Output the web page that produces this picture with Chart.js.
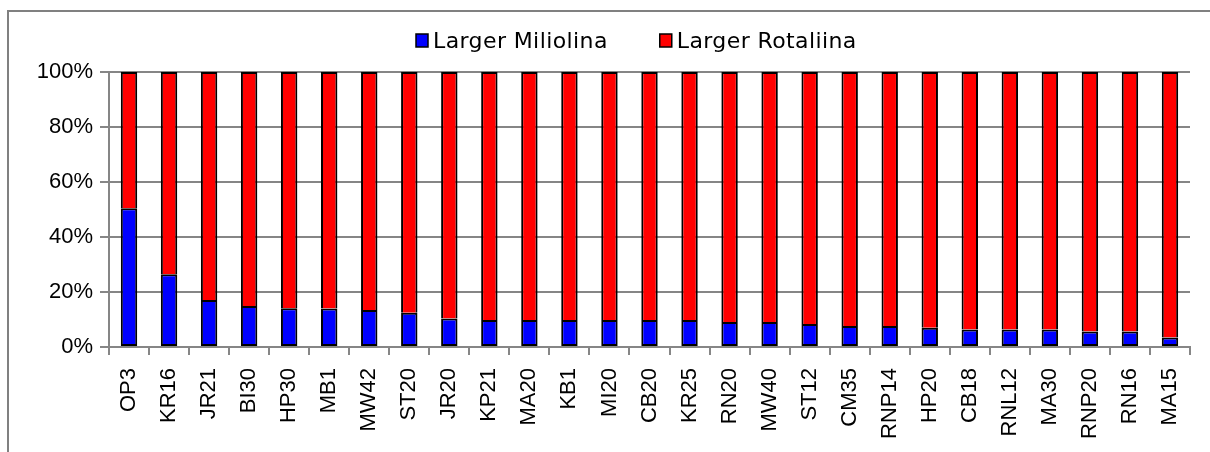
<!DOCTYPE html>
<html>
<head>
<meta charset="utf-8">
<script src="https://cdn.jsdelivr.net/npm/chart.js@4/dist/chart.umd.min.js"></script>
<style>
  body { margin: 0; background: #fff; }
  canvas { display: block; }
</style>
</head>
<body>
<canvas id="chart" width="1210" height="452"></canvas>
<script>
// sample names along the x axis
const samples = ['OP3','KR16','JR21','BI30','HP30','MB1','MW42','ST20','JR20','KP21','MA20','KB1','MI20','CB20',
  'KR25','RN20','MW40','ST12','CM35','RNP14','HP20','CB18','RNL12','MA30','RNP20','RN16','MA15'];

// percent of each group
const miliolina = [50.5, 26.5, 17.1, 14.9, 14.1, 14.0, 13.5, 12.5, 10.4, 9.8, 9.8, 9.8, 9.8, 9.8,
  9.8, 9.1, 9.1, 8.4, 7.6, 7.6, 7.0, 6.4, 6.4, 6.4, 5.6, 5.6, 3.5];
const rotaliina = [49.5, 73.5, 82.9, 85.1, 85.9, 86.0, 86.5, 87.5, 89.6, 90.2, 90.2, 90.2, 90.2, 90.2,
  90.2, 90.9, 90.9, 91.6, 92.4, 92.4, 93.0, 93.6, 93.6, 93.6, 94.4, 94.4, 96.5];

const yTicks = [0, 20, 40, 60, 80, 100];

const gridColor = '#868686';
const tickFont = { family: '"Liberation Sans", Arial, sans-serif', size: 22 };

// gray frame of the chart area (only top and left edges are visible)
const frame = {
  id: 'frame',
  beforeDraw(chart) {
    const ctx = chart.ctx;
    ctx.save();
    ctx.strokeStyle = '#808080';
    ctx.lineWidth = 2;
    ctx.beginPath();
    ctx.moveTo(8, 452);
    ctx.lineTo(8, 11);
    ctx.lineTo(1210, 11);
    ctx.stroke();
    ctx.restore();
  }
};

// legend on top, built from the datasets
const topLegend = {
  id: 'topLegend',
  afterDraw(chart) {
    const ctx = chart.ctx;
    ctx.save();
    ctx.font = '22px "DejaVu Sans", sans-serif';
    ctx.letterSpacing = '0.4px';
    ctx.textBaseline = 'middle';
    const y = 41;
    let x = 416;
    chart.data.datasets.forEach(ds => {
      ctx.fillStyle = ds.backgroundColor;
      ctx.fillRect(x, y - 7, 12, 13);
      ctx.strokeStyle = '#000';
      ctx.lineWidth = 1.5;
      ctx.strokeRect(x, y - 7, 12, 13);
      ctx.fillStyle = '#000';
      ctx.fillText(ds.label, x + 17, y + 1);
      x += 17 + ctx.measureText(ds.label).width + 52;
    });
    ctx.restore();
  }
};

new Chart(document.getElementById('chart'), {
  type: 'bar',
  data: {
    labels: samples,
    datasets: [{
      label: 'Larger Miliolina',
      data: miliolina,
      backgroundColor: '#0000ff',
      borderColor: '#000',
      borderWidth: 2,
      borderSkipped: false,
      barPercentage: 0.41,
      categoryPercentage: 1
    }, {
      label: 'Larger Rotaliina',
      data: rotaliina,
      backgroundColor: '#ff0000',
      borderColor: '#000',
      borderWidth: 2,
      borderSkipped: 'start',
      barPercentage: 0.41,
      categoryPercentage: 1
    }]
  },
  options: {
    responsive: false,
    animation: false,
    layout: { padding: { top: 72, right: 20, left: 0, bottom: 0 } },
    plugins: {
      legend: { display: false },
      tooltip: { enabled: false }
    },
    scales: {
      x: {
        stacked: true,
        grid: { drawOnChartArea: false, tickLength: 8, color: gridColor, lineWidth: 2, offset: true },
        border: { color: gridColor, width: 2 },
        ticks: { minRotation: 90, maxRotation: 90, autoSkip: false, padding: 13, color: '#000', font: tickFont },
        afterFit(s) { s.height = 105; }
      },
      y: {
        stacked: true,
        min: 0,
        max: 100,
        afterBuildTicks(s) { s.ticks = yTicks.map(v => ({ value: v })); },
        grid: { tickLength: 9, color: gridColor, lineWidth: 2 },
        border: { color: gridColor, width: 2 },
        ticks: { padding: 7, color: '#000', font: tickFont, callback: v => v + '%' },
        afterFit(s) { s.width = 109; }
      }
    }
  },
  plugins: [frame, topLegend]
});
</script>
</body>
</html>
